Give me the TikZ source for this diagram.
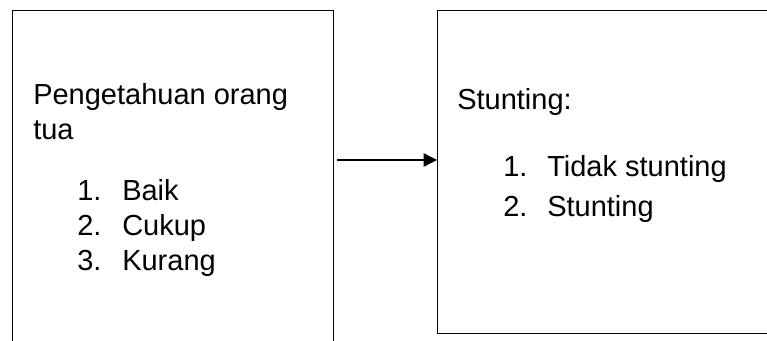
\documentclass[tikz,border=0pt]{standalone}
\usepackage{fontspec}
\setmainfont{Liberation Sans}
\usetikzlibrary{arrows.meta}
\begin{document}
\begin{tikzpicture}[x=0.75pt,y=-0.75pt,
  box/.style={draw, line width=1pt, rectangle, inner sep=0pt, anchor=north west},
  txt/.style={anchor=base west, inner sep=0pt, font=\fontsize{21.75}{26}\selectfont},
  conn/.style={-{Triangle[length=10pt,width=10pt]}, line width=1pt}]
\useasboundingbox (0,0) rectangle (767,341);
\clip (0,0) rectangle (767,341);
\node[box, minimum width=241.1pt, minimum height=262pt] (left) at (11.5,10) {};
\node[box, minimum width=265pt, minimum height=242.25pt] (right) at (437,10) {};
\node[txt] (t1) at (33,105) {Pengetahuan orang};
\node[txt] (t2) at (33,140) {tua};
\node[txt] (n1) at (77,201) {1.};
\node[txt] (l1) at (122,201) {Baik};
\node[txt] (n2) at (77,236) {2.};
\node[txt] (l2) at (122,236) {Cukup};
\node[txt] (n3) at (77,271) {3.};
\node[txt] (l3) at (122,271) {Kurang};
\node[txt] (s0) at (457,110) {Stunting:};
\node[txt] (m1) at (503,177) {1.};
\node[txt] (r1) at (547,177) {Tidak stunting};
\node[txt] (m2) at (503,217) {2.};
\node[txt] (r2) at (547,217) {Stunting};
\coordinate (a0) at (337,160);
\draw[conn] (a0) -- (right.west |- a0);
\end{tikzpicture}
\end{document}
